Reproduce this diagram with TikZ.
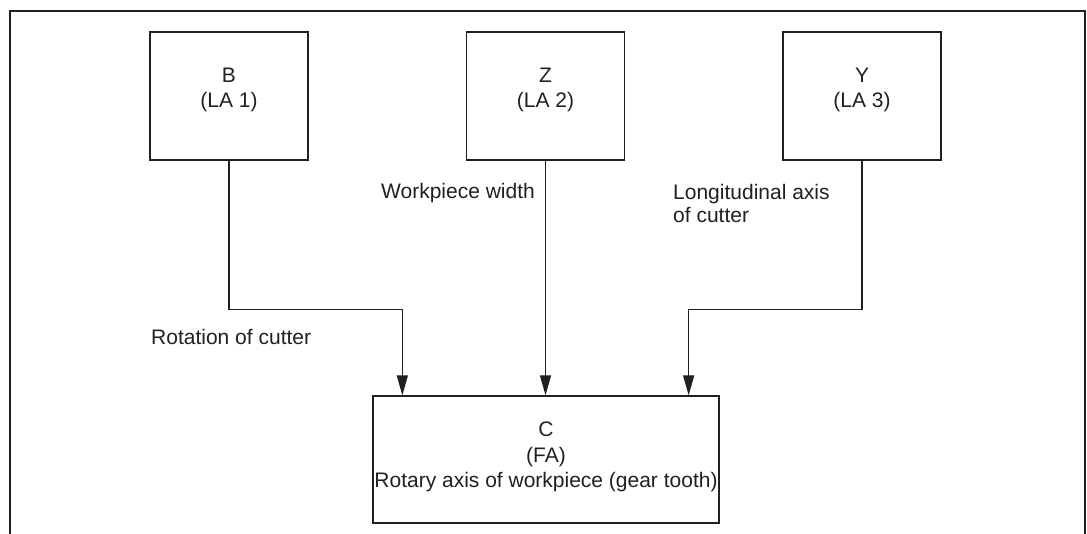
\documentclass[tikz,border=0pt]{standalone}
\usepackage{fontspec}
\setmainfont{Liberation Sans}
\usetikzlibrary{arrows.meta,calc}
\definecolor{ink}{RGB}{35,31,32}
\tikzset{
  axisbox/.style={draw=ink, line width=1.3pt, rectangle, inner sep=0pt,
                  minimum width=158pt, minimum height=128pt},
  fabox/.style={draw=ink, line width=1.3pt, rectangle, inner sep=0pt,
                minimum width=346pt, minimum height=127pt},
  boxtext/.style={text=ink, align=center, inner sep=0pt,
                  font=\fontsize{21}{24.5}\selectfont},
  fatext/.style={text=ink, align=center, inner sep=0pt,
                 font=\fontsize{21}{25.5}\selectfont},
  note/.style={text=ink, align=left, inner sep=0pt, anchor=base west,
               font=\fontsize{21}{23}\selectfont},
  link/.style={draw=ink, line width=1.3pt},
  flow/.style={link, -{Triangle[length=20pt,width=11pt]}}
}
\begin{document}
\begin{tikzpicture}[x=1pt,y=-1pt]
  \useasboundingbox (0,0) rectangle (1087,534);
  % open outer frame
  \coordinate (fbl) at (10,534);
  \coordinate (ftl) at (10,11);
  \coordinate (ftr) at (1085,11);
  \coordinate (fbr) at (1085,534);
  \draw[link] (fbl) -- (ftl) -- (ftr) -- (fbr);

  % linear axes
  \node[axisbox] (B) at (229,96) {};
  \node[boxtext] (Bt) at (229,90) {B\\(LA 1)};
  \node[axisbox] (Z) at (545.5,96) {};
  \node[boxtext] (Zt) at (545.5,90) {Z\\(LA 2)};
  \node[axisbox] (Y) at (862,96) {};
  \node[boxtext] (Yt) at (862,90) {Y\\(LA 3)};

  % following axis
  \node[fabox] (C) at (546,459.5) {};
  \node[fatext] (Ct) at (546,457) {C\\(FA)\\Rotary axis of workpiece (gear tooth)};

  % arrow entry points on top of C
  \coordinate (Cin1) at ($(C.north west)+(30,0)$);
  \coordinate (Cin3) at ($(C.north east)+(-31,0)$);

  % connectors
  \draw[flow] (B.south) |- ($(Cin1)+(0,-86)$) -- (Cin1);
  \draw[flow] (Z.south) -- (Z.south |- C.north);
  \draw[flow] (Y.south) |- ($(Cin3)+(0,-86)$) -- (Cin3);

  % connector labels
  \node[note] (lrot) at (151,345) {Rotation of cutter};
  \node[note] (lwid) at (381,199) {Workpiece width};
  \node[note, anchor=north west] (llong) at (673,184) {Longitudinal axis\\of cutter};
\end{tikzpicture}
\end{document}
